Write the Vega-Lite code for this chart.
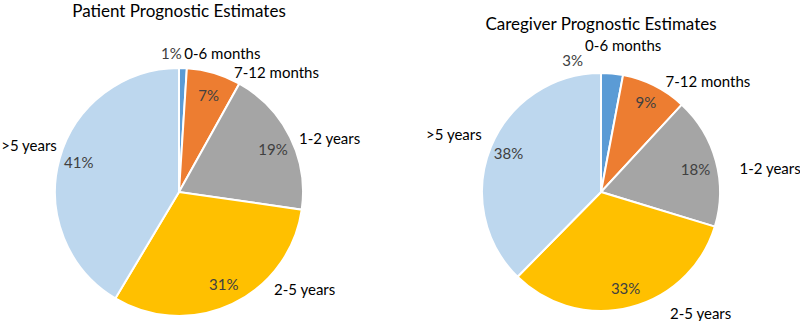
{
  "$schema": "https://vega.github.io/schema/vega-lite/v6.json",
  "padding": {"top": 3, "left": 0, "right": 0, "bottom": 0},
  "background": "white",
  "bounds": "flush",
  "spacing": 44,
  "config": {"view": {"stroke": null}, "font": "Lato"},
  "resolve": {"scale": {"theta": "independent"}},
  "hconcat": [
    {
      "width": 352,
      "height": 250,
      "title": {"text": "Patient Prognostic Estimates", "anchor": "middle", "fontSize": 17, "fontWeight": "normal", "font": "Lato", "color": "#000000", "offset": 5},
      "data": {"values": [
        {"cat": "0-6 months", "k": 1, "v": 0.01},
        {"cat": "7-12 months", "k": 2, "v": 0.07},
        {"cat": "1-2 years", "k": 3, "v": 0.19},
        {"cat": "2-5 years", "k": 4, "v": 0.31},
        {"cat": ">5 years", "k": 5, "v": 0.41}
      ]},
      "encoding": {
        "theta": {"field": "v", "type": "quantitative", "stack": true},
        "order": {"field": "k", "type": "quantitative"},
        "detail": {"field": "cat", "type": "nominal"}
      },
      "layer": [
        {"mark": {"type": "arc", "outerRadius": 124, "stroke": "white", "strokeWidth": 2},
         "encoding": {"color": {"field": "cat", "type": "nominal", "legend": null,
           "scale": {"domain": ["0-6 months", "7-12 months", "1-2 years", "2-5 years", ">5 years"], "range": ["#5B9BD5", "#ED7D31", "#A5A5A5", "#FFC000", "#BDD7EE"]}}}},
        {"mark": {"type": "text", "radius": 105, "dy": 5, "fontSize": 15, "fill": "#404040"},
         "encoding": {"text": {"field": "v", "format": ".0%"}, "opacity": {"condition": {"test": "datum.k == 2 || datum.k == 3", "value": 1}, "value": 0}}},
        {"mark": {"type": "text", "radius": 104, "dy": -1, "fontSize": 15, "fill": "#404040"},
         "encoding": {"text": {"field": "v", "format": ".0%"}, "opacity": {"condition": {"test": "datum.k >= 4", "value": 1}, "value": 0}}},
        {"mark": {"type": "text", "radius": 138, "dx": -12, "fontSize": 15, "fill": "#404040"},
         "encoding": {"text": {"field": "v", "format": ".0%"}, "opacity": {"condition": {"test": "datum.k == 1", "value": 1}, "value": 0}}},
        {"mark": {"type": "text", "radius": 135, "dx": 1, "dy": -3, "align": "left", "fontSize": 15, "fill": "#000000"},
         "encoding": {"text": {"field": "cat"}, "opacity": {"condition": {"test": "datum.k == 1", "value": 1}, "value": 0}}},
        {"mark": {"type": "text", "radius": 135, "dx": 17, "dy": 11, "align": "left", "fontSize": 15, "fill": "#000000"},
         "encoding": {"text": {"field": "cat"}, "opacity": {"condition": {"test": "datum.k == 2", "value": 1}, "value": 0}}},
        {"mark": {"type": "text", "radius": 135, "dx": -1, "dy": 7, "align": "left", "fontSize": 15, "fill": "#000000"},
         "encoding": {"text": {"field": "cat"}, "opacity": {"condition": {"test": "datum.k == 3", "value": 1}, "value": 0}}},
        {"mark": {"type": "text", "radius": 135, "dx": 37, "dy": -24, "align": "left", "fontSize": 15, "fill": "#000000"},
         "encoding": {"text": {"field": "cat"}, "opacity": {"condition": {"test": "datum.k == 4", "value": 1}, "value": 0}}},
        {"mark": {"type": "text", "radius": 135, "dx": 8, "dy": -10, "align": "right", "fontSize": 15, "fill": "#000000"},
         "encoding": {"text": {"field": "cat"}, "opacity": {"condition": {"test": "datum.k == 5", "value": 1}, "value": 0}}}
      ]
    },
    {
      "width": 404,
      "height": 250,
      "title": {"text": "Caregiver Prognostic Estimates", "anchor": "middle", "fontSize": 17, "fontWeight": "normal", "font": "Lato", "color": "#000000", "offset": 5},
      "data": {"values": [
        {"cat": "0-6 months", "k": 1, "v": 0.03},
        {"cat": "7-12 months", "k": 2, "v": 0.09},
        {"cat": "1-2 years", "k": 3, "v": 0.18},
        {"cat": "2-5 years", "k": 4, "v": 0.33},
        {"cat": ">5 years", "k": 5, "v": 0.38}
      ]},
      "encoding": {
        "theta": {"field": "v", "type": "quantitative", "stack": true},
        "order": {"field": "k", "type": "quantitative"},
        "detail": {"field": "cat", "type": "nominal"}
      },
      "layer": [
        {"mark": {"type": "arc", "outerRadius": 119, "stroke": "white", "strokeWidth": 2},
         "encoding": {"color": {"field": "cat", "type": "nominal", "legend": null,
           "scale": {"domain": ["0-6 months", "7-12 months", "1-2 years", "2-5 years", ">5 years"], "range": ["#5B9BD5", "#ED7D31", "#A5A5A5", "#FFC000", "#BDD7EE"]}}}},
        {"mark": {"type": "text", "radius": 100, "fontSize": 15, "fill": "#404040"},
         "encoding": {"text": {"field": "v", "format": ".0%"}, "opacity": {"condition": {"test": "datum.k == 2 || datum.k >= 4", "value": 1}, "value": 0}}},
        {"mark": {"type": "text", "radius": 100, "dx": -2, "dy": 4, "fontSize": 15, "fill": "#404040"},
         "encoding": {"text": {"field": "v", "format": ".0%"}, "opacity": {"condition": {"test": "datum.k == 3", "value": 1}, "value": 0}}},
        {"mark": {"type": "text", "radius": 135, "dx": -41, "dy": 3, "fontSize": 15, "fill": "#404040"},
         "encoding": {"text": {"field": "v", "format": ".0%"}, "opacity": {"condition": {"test": "datum.k == 1", "value": 1}, "value": 0}}},
        {"mark": {"type": "text", "radius": 130, "dx": -28, "dy": -17, "align": "left", "fontSize": 15, "fill": "#000000"},
         "encoding": {"text": {"field": "cat"}, "opacity": {"condition": {"test": "datum.k == 1", "value": 1}, "value": 0}}},
        {"mark": {"type": "text", "radius": 130, "dx": 6, "dy": 6, "align": "left", "fontSize": 15, "fill": "#000000"},
         "encoding": {"text": {"field": "cat"}, "opacity": {"condition": {"test": "datum.k == 2", "value": 1}, "value": 0}}},
        {"mark": {"type": "text", "radius": 130, "dx": 13, "dy": 11, "align": "left", "fontSize": 15, "fill": "#000000"},
         "encoding": {"text": {"field": "cat"}, "opacity": {"condition": {"test": "datum.k == 3", "value": 1}, "value": 0}}},
        {"mark": {"type": "text", "radius": 130, "dx": 37, "dy": -4, "align": "left", "fontSize": 15, "fill": "#000000"},
         "encoding": {"text": {"field": "cat"}, "opacity": {"condition": {"test": "datum.k == 4", "value": 1}, "value": 0}}},
        {"mark": {"type": "text", "radius": 130, "dx": 1, "dy": -8, "align": "right", "fontSize": 15, "fill": "#000000"},
         "encoding": {"text": {"field": "cat"}, "opacity": {"condition": {"test": "datum.k == 5", "value": 1}, "value": 0}}}
      ]
    }
  ]
}
